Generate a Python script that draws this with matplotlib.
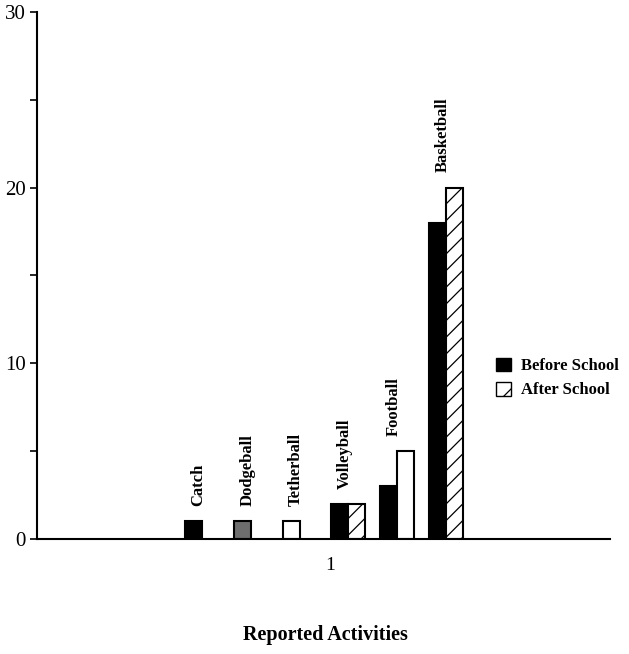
import matplotlib
matplotlib.use('Agg')
import matplotlib.pyplot as plt
from matplotlib.patches import Patch

# values
activities = ['Catch', 'Dodgeball', 'Tetherball', 'Volleyball', 'Football', 'Basketball']
before_school = [1, 1, 1, 2, 3, 18]
after_school = [0, 0, 0, 2, 5, 20]
# the original draws each bar with its own fill
before_fill = ['black', '#6e6e6e', 'white', 'black', 'black', 'black']
after_fill = ['white', 'white', 'white', 'white', 'white', 'white']
after_hatch = ['//', '//', '//', '//', '', '//']

plt.rcParams['font.family'] = ['Liberation Serif', 'DejaVu Serif']
plt.rcParams['hatch.linewidth'] = 0.9

fig = plt.figure(figsize=(6.29, 6.54), dpi=100)
ax = fig.add_axes([0.0588, 0.1758, 0.9112, 0.8059])

pitch = 0.0870
w = 0.0303
first = 0.7566

for i, name in enumerate(activities):
    xb = first + i * pitch
    xa = xb + w
    if before_school[i] > 0:
        ax.bar(xb, before_school[i], width=w, color=before_fill[i],
               edgecolor='black', linewidth=1.5)
    if after_school[i] > 0:
        ax.bar(xa, after_school[i], width=w, color=after_fill[i],
               edgecolor='black', linewidth=1.5, hatch=after_hatch[i])
    top = max(before_school[i], after_school[i])
    ax.annotate(name, (xb + 0.009, top), xytext=(0, 11), textcoords='offset points',
                rotation=90, ha='center', va='bottom', fontsize=12, fontweight='bold')

ax.set_xlim(0.4775, 1.4994)
ax.set_ylim(0, 30)
ax.set_xticks([1])
ax.set_xticklabels(['1'])
ax.set_yticks([0, 10, 20, 30])
ax.set_yticks([5, 15, 25], minor=True)
ax.tick_params(axis='y', which='both', direction='out', length=5, width=1.2, labelsize=15, pad=3)
ax.tick_params(axis='x', length=0, labelsize=14, pad=13)
for s in ['top', 'right']:
    ax.spines[s].set_visible(False)
ax.spines['left'].set_linewidth(1.5)
ax.spines['bottom'].set_linewidth(1.5)

handles = [Patch(facecolor='black', edgecolor='black', label='Before School'),
           Patch(facecolor='white', edgecolor='black', hatch='/', label='After School')]
fig.legend(handles=handles, loc='center left', bbox_to_anchor=(0.765, 0.422),
           frameon=False, handlelength=0.9, handleheight=0.9, handletextpad=0.6,
           labelspacing=0.45, prop={'weight': 'bold', 'size': 12})

fig.text(0.517, 0.029, 'Reported Activities', ha='center', va='center',
         fontsize=14.5, fontweight='bold')

fig.savefig('out.png', dpi=100)
